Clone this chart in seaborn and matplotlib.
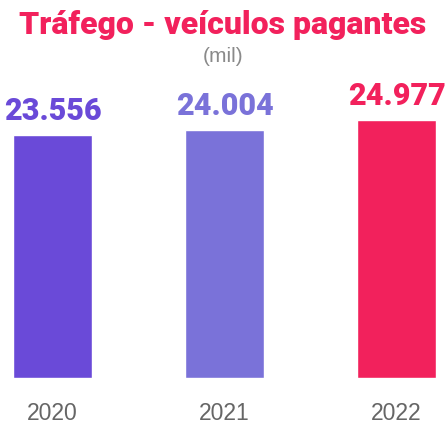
import matplotlib
matplotlib.use("Agg")
import matplotlib.pyplot as plt
import seaborn as sns
import pandas as pd

years = ["2020", "2021", "2022"]
values = [23556, 24004, 24977]
labels = ["23.556", "24.004", "24.977"]
colors = ["#6A4AD8", "#7A72D9", "#F2215C"]

title = "Tráfego - veículos pagantes"
subtitle = "(mil)"

sns.set_theme(style="white")
plt.rcParams['font.family'] = ['Roboto', 'DejaVu Sans']

df = pd.DataFrame({"year": years, "value": values})

W, H = 446, 423
fig = plt.figure(figsize=(W / 100, H / 100), dpi=100)
base = 45
ax = fig.add_axes([0, base / H, 1, 1 - base / H])
sns.barplot(data=df, x="year", y="value", hue="year", palette=colors,
            width=0.46, legend=False, ax=ax, saturation=1)

ax.set_xlim(-52.5 / 172, 2 + (446 - 396.5) / 172)
ax.set_ylim(0, 378 / 0.01033)
ax.set_xlabel("")
ax.set_ylabel("")
ax.set_yticks([])
ax.set_xticks([])
for s in ax.spines.values():
    s.set_visible(False)

for i, (v, lab, c) in enumerate(zip(values, labels, colors)):
    ax.annotate(lab, xy=(i, v), xytext=(0, 24 * 0.72), textcoords="offset points",
                ha="center", va="center", fontsize=22, fontweight=900, color=c)
    fig.text((52.5 + 172 * i) / W, 1 - 413 / H, years[i], ha="center", va="center",
             fontsize=16.5, color="#666666", family="Liberation Sans")

fig.text(0.5, 1 - 25 / H, title, ha="center", va="center", fontsize=23,
         fontweight=900, color="#F2215C")
fig.text(0.5, 1 - 57 / H, subtitle, ha="center", va="center", fontsize=15,
         color="#8a8a8a", family="Liberation Sans")

fig.savefig("out.png", dpi=100)
